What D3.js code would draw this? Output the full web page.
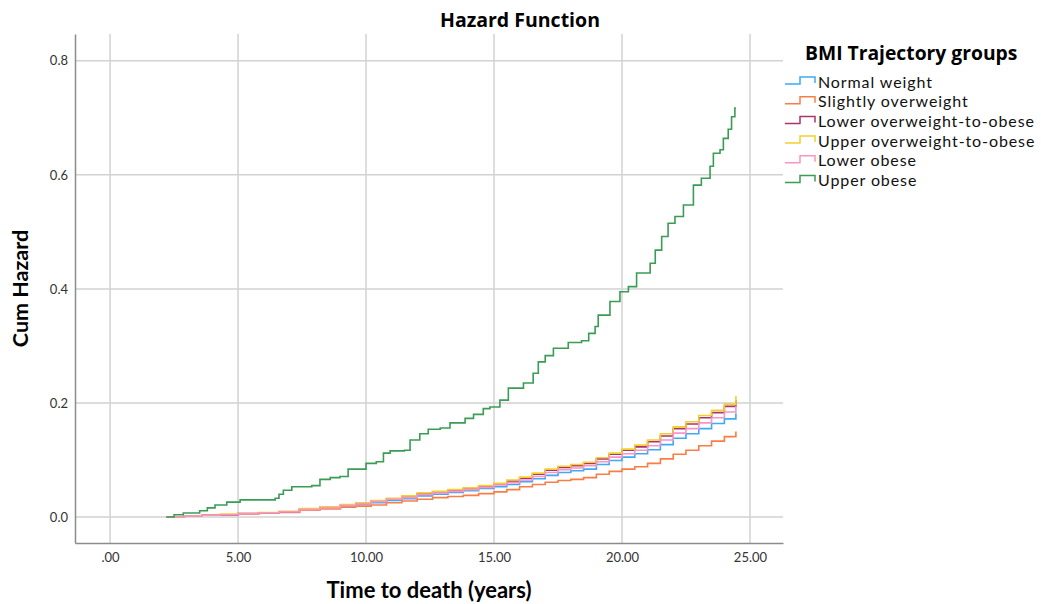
<!DOCTYPE html>
<html>
<head>
<meta charset="utf-8">
<script src="https://cdn.jsdelivr.net/npm/d3@7"></script>
<style>
  body { margin: 0; background: #fff; }
  text { font-family: Lato, "Open Sans", sans-serif; }
</style>
</head>
<body>
<svg id="chart" width="1041" height="604"></svg>
<script>
// groups in legend order
var groups = ["Normal weight", "Slightly overweight", "Lower overweight-to-obese",
              "Upper overweight-to-obese", "Lower obese", "Upper obese"];
var colors = ["#3fa9f5", "#fb7d45", "#a8356f", "#f3cf2c", "#f994c7", "#3a9c55"];

// event times shared by the five lower curves (years)
var times = [2.2, 2.9, 3.6, 4.3, 5.0, 5.8, 6.6, 7.4, 8.2, 9.0, 9.6, 10.2, 10.8, 11.4, 12.0,
             12.6, 13.2, 13.8, 14.4, 15.0, 15.5, 16.0, 16.5, 17.0, 17.5, 18.0, 18.5, 19.0,
             19.5, 20.0, 20.5, 21.0, 21.5, 22.0, 22.5, 23.0, 23.5, 24.0, 24.45];

var normalWeight = [0, 0.002, 0.003, 0.004, 0.005, 0.007, 0.009, 0.013, 0.016, 0.019, 0.022,
  0.025, 0.029, 0.032, 0.037, 0.040, 0.043, 0.046, 0.050, 0.053, 0.057, 0.062, 0.067, 0.073,
  0.078, 0.081, 0.084, 0.092, 0.099, 0.105, 0.111, 0.118, 0.127, 0.138, 0.146, 0.155, 0.164,
  0.172, 0.182];
var slightlyOver = [0, 0.002, 0.003, 0.004, 0.005, 0.007, 0.008, 0.012, 0.014, 0.017, 0.019,
  0.021, 0.025, 0.028, 0.031, 0.034, 0.036, 0.038, 0.041, 0.044, 0.048, 0.053, 0.057, 0.061,
  0.064, 0.066, 0.069, 0.075, 0.080, 0.084, 0.088, 0.094, 0.102, 0.110, 0.117, 0.125, 0.133,
  0.141, 0.150];
var lowerOwObese = [0, 0.002, 0.003, 0.004, 0.006, 0.007, 0.009, 0.014, 0.017, 0.021, 0.024,
  0.028, 0.032, 0.035, 0.041, 0.044, 0.047, 0.050, 0.054, 0.058, 0.063, 0.068, 0.075, 0.082,
  0.087, 0.090, 0.094, 0.102, 0.110, 0.117, 0.123, 0.132, 0.142, 0.155, 0.163, 0.174, 0.183,
  0.194, 0.205];
var upperOwObese = [0, 0.002, 0.003, 0.005, 0.006, 0.008, 0.010, 0.015, 0.018, 0.022, 0.025,
  0.029, 0.033, 0.037, 0.042, 0.045, 0.048, 0.051, 0.055, 0.059, 0.065, 0.070, 0.077, 0.084,
  0.089, 0.092, 0.096, 0.104, 0.112, 0.119, 0.126, 0.135, 0.146, 0.158, 0.167, 0.178, 0.187,
  0.198, 0.212];
var lowerObese = [0, 0.002, 0.003, 0.004, 0.006, 0.007, 0.009, 0.013, 0.016, 0.020, 0.023,
  0.027, 0.031, 0.034, 0.039, 0.042, 0.045, 0.048, 0.052, 0.056, 0.060, 0.065, 0.071, 0.078,
  0.083, 0.086, 0.090, 0.097, 0.105, 0.111, 0.117, 0.125, 0.135, 0.147, 0.155, 0.165, 0.174,
  0.184, 0.195];

// upper obese has its own event times
var upperObeseTimes = [2.2, 2.5, 2.86, 3.5, 3.8, 4.1, 4.56, 5.08, 6.45, 6.6, 6.77, 7.1, 7.88,
  8.2, 8.6, 8.98, 9.3, 10.0, 10.4, 10.68, 10.94, 11.5, 11.72, 12.1, 12.43, 12.9, 13.28, 13.87,
  14.2, 14.58, 14.84, 15.23, 15.56, 16.15, 16.53, 16.73, 17.0, 17.32, 17.9, 18.42, 18.7, 18.95,
  19.07, 19.53, 19.92, 20.25, 20.57, 21.1, 21.3, 21.55, 21.8, 22.07, 22.4, 22.79, 23.1, 23.44,
  23.57, 23.83, 23.96, 24.15, 24.28, 24.41, 24.45];
var upperObese = [0, 0.004, 0.007, 0.011, 0.016, 0.021, 0.026, 0.030, 0.033, 0.040, 0.047,
  0.053, 0.055, 0.066, 0.069, 0.071, 0.084, 0.094, 0.097, 0.112, 0.116, 0.117, 0.135, 0.146,
  0.154, 0.156, 0.165, 0.173, 0.180, 0.190, 0.193, 0.205, 0.226, 0.235, 0.252, 0.272, 0.283,
  0.296, 0.306, 0.309, 0.322, 0.334, 0.354, 0.378, 0.395, 0.404, 0.428, 0.445, 0.468, 0.492,
  0.515, 0.527, 0.547, 0.582, 0.594, 0.615, 0.638, 0.644, 0.664, 0.680, 0.702, 0.717, 0.717];

var xTicks = [0, 5, 10, 15, 20, 25];
var yTicks = [0, 0.2, 0.4, 0.6, 0.8];

var series = [
  { name: groups[0], t: times, v: normalWeight },
  { name: groups[1], t: times, v: slightlyOver },
  { name: groups[2], t: times, v: lowerOwObese },
  { name: groups[3], t: times, v: upperOwObese },
  { name: groups[4], t: times, v: lowerObese },
  { name: groups[5], t: upperObeseTimes, v: upperObese }
];

var plot = { left: 75, right: 783, top: 34, bottom: 543 };

var svg = d3.select("#chart");

var x = d3.scaleLinear().domain([-1.37, 26.29]).range([plot.left, plot.right]);
var y = d3.scaleLinear().domain([-0.0456, 0.847]).range([plot.bottom, plot.top]);

// grid
var grid = svg.append("g").attr("stroke", "#d2d2d2").attr("stroke-width", 1.5);
grid.selectAll("line.v").data(xTicks).enter().append("line")
  .attr("x1", function(d) { return x(d); }).attr("x2", function(d) { return x(d); })
  .attr("y1", plot.top).attr("y2", plot.bottom);
grid.selectAll("line.h").data(yTicks).enter().append("line")
  .attr("x1", plot.left).attr("x2", plot.right)
  .attr("y1", function(d) { return y(d); }).attr("y2", function(d) { return y(d); });

// axes
var xAxis = d3.axisBottom(x).tickValues(xTicks).tickSize(0).tickPadding(10)
  .tickFormat(function(d) { return d === 0 ? ".00" : d3.format(".2f")(d); });
var yAxis = d3.axisLeft(y).tickValues(yTicks).tickSize(0).tickPadding(7)
  .tickFormat(d3.format(".1f"));

var gx = svg.append("g").attr("transform", `translate(0, ${plot.bottom})`).call(xAxis);
var gy = svg.append("g").attr("transform", `translate(${plot.left}, 0)`).call(yAxis);
[gx, gy].forEach(function(g) {
  g.select(".domain").attr("stroke", "#8c8c8c").attr("stroke-width", 1.5);
  g.selectAll("text").attr("font-size", 13).attr("fill", "#333")
    .style("font-family", "Lato, sans-serif");
});

// curves
var line = d3.line()
  .x(function(d) { return x(d[0]); })
  .y(function(d) { return y(d[1]); })
  .curve(d3.curveStepAfter);

series.forEach(function(s, i) {
  var pts = s.t.map(function(t, j) { return [t, s.v[j]]; });
  svg.append("path")
    .attr("d", line(pts))
    .attr("fill", "none")
    .attr("stroke", colors[i])
    .attr("stroke-width", 1.6);
});

// titles
svg.append("text")
  .attr("x", 520).attr("y", 27)
  .attr("text-anchor", "middle")
  .attr("font-size", 19.5).attr("font-weight", "bold")
  .style("font-family", "'Open Sans', sans-serif")
  .text("Hazard Function");

svg.append("text")
  .attr("x", (plot.left + plot.right) / 2).attr("y", 598)
  .attr("text-anchor", "middle")
  .attr("font-size", 22).attr("font-weight", "bold")
  .text("Time to death (years)");

svg.append("text")
  .attr("transform", `translate(28, ${(plot.top + plot.bottom) / 2}) rotate(-90)`)
  .attr("text-anchor", "middle")
  .attr("font-size", 21.5).attr("font-weight", "bold")
  .text("Cum Hazard");

// legend
var legend = svg.append("g");
legend.append("text")
  .attr("x", 805).attr("y", 60)
  .attr("font-size", 19.3).attr("font-weight", "bold")
  .style("font-family", "'Open Sans', sans-serif")
  .text("BMI Trajectory groups");

groups.forEach(function(name, i) {
  var cy = 82 + i * 19.7;
  legend.append("path")
    .attr("d", `M785,${cy + 2}H800V${cy - 5}H815V${cy + 1}`)
    .attr("fill", "none")
    .attr("stroke", colors[i])
    .attr("stroke-width", 1.5);
  legend.append("text")
    .attr("x", 818).attr("y", cy + 5.5)
    .attr("font-size", 16)
    .attr("letter-spacing", 0.9)
    .attr("fill", "#111")
    .text(name);
});
</script>
</body>
</html>
